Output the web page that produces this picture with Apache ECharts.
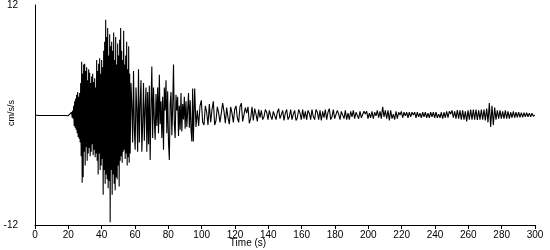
<!DOCTYPE html>
<html>
<head>
<meta charset="utf-8">
<script src="https://cdn.jsdelivr.net/npm/echarts@6/dist/echarts.min.js"></script>
<style>html,body{margin:0;padding:0;background:#fff}#c{width:550px;height:250px}</style>
</head>
<body>
<div id="c"></div>
<script>
// Axis settings (values)
const xTicks = [0, 300, 20];
const yTicks = [-12, 12, 12];
const xName = 'Time (s)';
const yName = 'cm/s/s';

// Pre-event quiet segment: start time (s), step (s), values (cm/s/s)
const quietStart = 0, quietStep = 1;
const quietValues = [0,0.05,-0.05,0.05,-0.05,0.05,-0.05,0.05,-0.05,0.05,-0.05,
  0.05,-0.05,0.05,-0.05,0.05,-0.05,0.05,-0.05,0.08,-0.08,0.1];

// Strong-motion segment
const strongStart = 22, strongStep = 0.3;
const strongValues = [
  0.3,-0.3,0.5,-0.4,
  1.0,-1.2,1.5,-1.4,1.8,-1.6,
  2.2,-2.0,2.5,-2.4,2.0,-2.6,2.4,
  -3.0,3.5,-4.5,
  5.8,-7.4,4.5,-6.8,5.5,-4.0,5.6,
  -5.5,4.8,-3.5,5.2,-5.0,3.8,-4.2,5.0,-3.6,4.6,
  -4.5,3.5,-4.0,4.2,-3.2,4.5,-4.4,3.6,-3.8,4.0,-4.6,3.0,-4.2,
  6.0,-5.0,4.8,-6.5,5.6,-4.2,6.2,-6.0,4.5,-5.5,6.0,-4.8,5.2,
  -8.7,7.0,-6.0,8.0,-7.5,10.4,-6.5,
  8.5,-7.0,9.5,-8.0,6.5,-7.2,8.8,-11.7,7.5,-6.0,
  8.0,-8.7,7.0,-6.5,9.0,-7.5,6.0,-8.2,8.5,-6.8,5.5,-7.0,7.8,-5.5,6.5,-7.8,8.2,
  -5.0,9.5,-4.5,7.0,-5.2,6.0,-4.0,9.2,-3.8,5.5,-4.8,6.5,-4.2,8.0,-5.5,5.0,-4.6,7.5,-5.2,4.5
];

// Coda segment
const codaStart = 57.1, codaStep = 0.5;
const codaValues = [
  -4.2,3.5,1.0,-3.0,4.8,-1.5,-3.8,3.0,
  0.5,-4.0,5.0,-3.0,1.2,3.8,
  -4.0,-1.0,3.5,-2.8,0.8,3.0,-4.0,2.5,
  -3.2,3.2,-4.9,1.0,
  5.3,-2.5,3.0,-0.5,
  -2.7,2.3,-1.2,3.0,-2.0,4.4,-1.0,1.5,-2.5,2.0,-3.8,3.0,
  0.5,3.8,-2.0,2.6,-3.0,-4.9,1.2,2.5,
  -2.2,0.8,5.5,-1.0,
  -2.5,2.2,0.5,2.0,-2.3,1.0,-1.6,2.4,
  -1.8,1.2,-0.5,2.0,-1.5,1.5,-1.3,0.5,2.4,-1.4,1.6,-1.6,-2.9,2.9
];

// Tail segment
const tailStart = 95, tailStep = 0.8;
const tailValues = [
  -2.9,2.9,-1.3,
  0.5,-1.2,1.0,1.6,
  -0.8,-1.1,1.0,0.3,-1.1,
  1.2,-0.8,0.6,1.5,-1.1,
  -0.6,0.9,0.2,-0.8,-0.6,
  1.3,0.4,-0.9,0.8,-0.3,
  -1.0,0.9,0.2,-0.8,0.6,
  1.0,-0.3,-0.8,0.9,1.3,
  -0.7,-0.9,0.8,0.2,0.9,
  -0.9,-0.4,0.9,-0.6,0.7,
  0.1,-0.7,0.6,-0.3,0.5,
  -0.5,-0.2,0.6,0.3,-0.5,
  0.5,-0.1,-0.5,0.4,0.2,
  -0.5,0.3,0.7,-0.4,-0.2,
  0.5,-0.6,0.2,0.6,-0.5,
  -0.2,0.6,-0.5,0.1,0.5,
  -0.6,-0.3,0.6,0.2,-0.5,
  0.6,-0.4,0.4,-0.5,0.5,
  0.2,-0.5,0.6,-0.2,-0.5,
  0.6,0.3,-0.5,0.5,-0.6,
  0.4,-0.3,0.6,-0.5,0.3,
  0.7,-0.5,-0.2,0.6,-0.4,
  -0.5,0.5,0.1,-0.5,0.4,
  0.6,-0.4,0.5,-0.5,0.2,
  -0.5,0.4,-0.2,0.5,-0.4,
  0.3,0.1,-0.4,0.4,-0.3,
  -0.4,0.4,0.1,0.4,-0.4,
  0.2,-0.3,0.4,-0.4,0.3,
  -0.1,0.5,-0.3,0.4,-0.4,
  0.9,-0.2,0.5,-0.4,0.5,
  -0.6,0.5,-0.4,0.1,-0.5,
  0.4,-0.4,0.3,0.0,0.4,
  -0.3,0.3,-0.1,0.3,-0.3,
  0.3,-0.2,0.3,0.0,0.3,
  -0.3,0.3,-0.2,0.2,-0.3,
  0.3,-0.2,0.3,-0.3,0.2,
  -0.3,0.3,-0.2,0.3,-0.3,
  0.3,-0.3,0.1,-0.3,0.3,
  -0.4,0.3,-0.3,0.4,-0.3,
  0.4,0.1,0.5,-0.3,0.4,
  -0.4,0.55,-0.4,0.5,-0.5,
  0.5,-0.5,0.4,-0.7,0.5,
  -0.5,0.6,-0.5,0.6,-0.5,
  0.6,-0.55,0.5,-0.5,0.6,
  -0.5,0.6,-0.6,0.7,-0.8,
  1.3,-1.3,1.0,-1.1,0.8,
  -0.5,0.5,-0.4,0.5,-0.4,
  0.4,-0.4,0.5,-0.4,0.4,
  -0.4,0.3,-0.3,0.4,-0.3,
  0.3,-0.25,0.3,-0.25,0.25,
  -0.25,0.25,-0.2,0.25,-0.2,
  0.2,-0.2,0.2,-0.15,0
];

function seg(start, step, values) {
  return values.map((v, i) => [+(start + i * step).toFixed(2), v]);
}
const data = [].concat(
  seg(quietStart, quietStep, quietValues),
  seg(strongStart, strongStep, strongValues),
  seg(codaStart, codaStep, codaValues),
  seg(tailStart, tailStep, tailValues)
);

const FONT = 'Liberation Sans, Arial, sans-serif';
const chart = echarts.init(document.getElementById('c'), null, {renderer: 'canvas'});
chart.setOption({
  animation: false,
  backgroundColor: '#fff',
  grid: {left: 35, right: 15, top: 5, bottom: 25, outerBoundsMode: 'none'},
  xAxis: {
    type: 'value', min: xTicks[0], max: xTicks[1], interval: xTicks[2],
    axisLine: {onZero: false, lineStyle: {color: '#000', width: 1}},
    axisTick: {show: true, length: 4, lineStyle: {color: '#000'}},
    axisLabel: {color: '#000', fontSize: 10, fontFamily: FONT, margin: 5},
    splitLine: {show: false}
  },
  yAxis: {
    type: 'value', min: yTicks[0], max: yTicks[1], interval: yTicks[2],
    axisLine: {show: true, lineStyle: {color: '#000', width: 1}},
    axisTick: {show: false},
    axisLabel: {color: '#000', fontSize: 10, fontFamily: FONT, margin: 17, padding: [3, 0, 0, 0],
      formatter: v => (v === 0 ? '' : String(v))},
    splitLine: {show: false}
  },
  graphic: [
    {type: 'text', x: 248, y: 243, style: {text: xName, fill: '#000', font: '10px ' + FONT, textAlign: 'center', textVerticalAlign: 'middle'}},
    {type: 'text', x: 12, y: 113, rotation: Math.PI / 2, style: {text: yName, fill: '#000', font: '9px ' + FONT, textAlign: 'center', textVerticalAlign: 'middle'}}
  ],
  series: [{
    type: 'line', data: data, showSymbol: false, sampling: null,
    lineStyle: {color: '#000', width: 1.1}, itemStyle: {color: '#000'}
  }]
});
</script>
</body>
</html>
